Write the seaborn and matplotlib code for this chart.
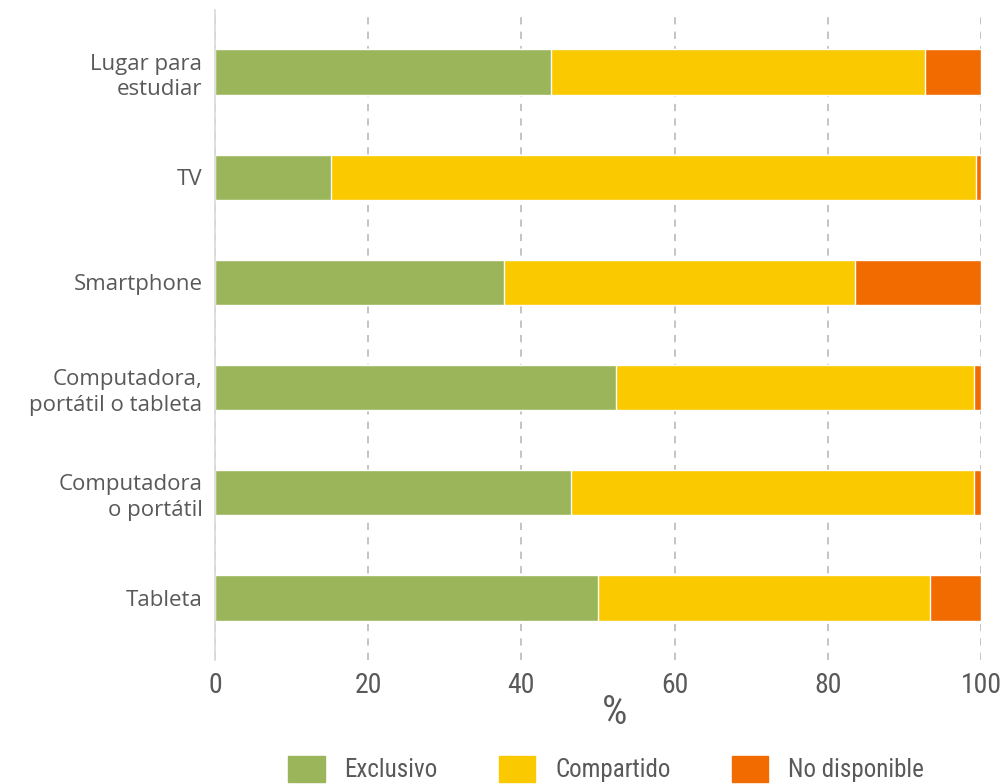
import numpy as np
import pandas as pd
import matplotlib
matplotlib.use("Agg")
import matplotlib.pyplot as plt
import seaborn as sns
from matplotlib.patches import Patch
from matplotlib import font_manager

categorias = ["Lugar para\nestudiar", "TV", "Smartphone",
              "Computadora,\nportátil o tableta", "Computadora\no portátil", "Tableta"]
exclusivo = [43.8, 15.1, 37.7, 52.3, 46.5, 50.0]
compartido = [48.9, 84.2, 45.9, 46.8, 52.6, 43.3]
no_disponible = [7.3, 0.7, 16.4, 0.9, 0.9, 6.7]

verde = "#9BB55A"
amarillo = "#FAC900"
naranja = "#F26B00"
gris = "#595959"

# busca una fuente estrecha instalada
nombres = {f.name for f in font_manager.fontManager.ttflist}
estrecha = None
for n in ["Liberation Sans Narrow", "Roboto Condensed", "Open Sans Condensed", "DejaVu Sans Condensed"]:
    if n in nombres:
        estrecha = n
        break
if estrecha is None:
    fp_estrecha = {"family": "DejaVu Sans", "stretch": "condensed"}
else:
    fp_estrecha = {"family": estrecha}

df = pd.DataFrame({"cat": categorias, "exc": exclusivo, "comp": compartido, "nd": no_disponible})
df["c2"] = df["exc"] + df["comp"]
df["c3"] = df["c2"] + df["nd"]

sns.set_style("white")
plt.rcParams["font.family"] = ["Open Sans", "DejaVu Sans"]

fig = plt.figure(figsize=(10.07, 7.84), dpi=100)
ax = fig.add_axes([0.2135, 0.1582, 0.7607, 0.829])

sns.barplot(data=df, y="cat", x="c3", color=naranja, orient="h", width=0.43, saturation=1, ax=ax)
sns.barplot(data=df, y="cat", x="c2", color=amarillo, orient="h", width=0.43, saturation=1, ax=ax)
sns.barplot(data=df, y="cat", x="exc", color=verde, orient="h", width=0.43, saturation=1, ax=ax)

ax.set_xlim(0, 100)
ax.set_ylim(5.59, -0.59)
ax.set_xticks([0, 20, 40, 60, 80, 100])
ax.set_ylabel("")
ax.set_xlabel("%", color=gris, fontproperties=font_manager.FontProperties(size=29, **fp_estrecha))
ax.xaxis.set_label_coords(0.522, -0.051)
ax.xaxis.grid(True, linestyle=(0, (4, 4)), color="#BFBFBF", linewidth=1.3)
ax.set_axisbelow(True)
for s in ["top", "right", "bottom"]:
    ax.spines[s].set_visible(False)
ax.spines["left"].set_color("#D9D9D9")
ax.spines["left"].set_linewidth(1.2)
ax.tick_params(axis="both", length=0)
ax.tick_params(axis="y", labelsize=16, labelcolor=gris, pad=9)
ax.tick_params(axis="x", labelsize=20, labelcolor=gris, pad=9)
for t in ax.get_xticklabels():
    t.set_fontproperties(font_manager.FontProperties(size=20, **fp_estrecha))
for t in ax.get_yticklabels():
    t.set_horizontalalignment("right")
    t.set_multialignment("right")
    t.set_linespacing(1.3)

handles = [Patch(color=verde, label="Exclusivo"),
           Patch(color=amarillo, label="Compartido"),
           Patch(color=naranja, label="No disponible")]
fig.legend(handles=handles, loc="lower center", bbox_to_anchor=(0.602, 0.002), ncol=3,
           frameon=False, handlelength=1.45, handleheight=1.25, columnspacing=2.45, handletextpad=0.8,
           borderpad=0, borderaxespad=0,
           prop=font_manager.FontProperties(size=18, **fp_estrecha),
           labelcolor=gris)

fig.savefig("out.png", dpi=100)
